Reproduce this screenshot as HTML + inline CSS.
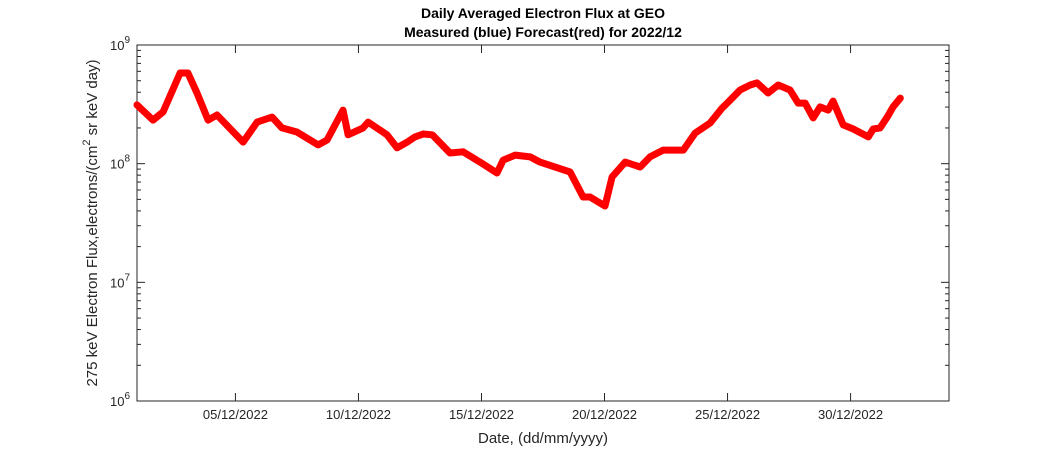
<!DOCTYPE html>
<html><head><meta charset="utf-8"><style>
body{margin:0;background:#fff;}
svg{display:block;font-family:"Liberation Sans",Arial,sans-serif;}
</style></head><body>
<svg id="chart" width="1050" height="450" viewBox="0 0 1050 450">
<rect x="0" y="0" width="1050" height="450" fill="#fff"/>
<text x="543" y="18" text-anchor="middle" font-size="14" font-weight="bold" fill="#000">Daily Averaged Electron Flux at GEO</text>
<text x="543" y="37" text-anchor="middle" font-size="14" font-weight="bold" fill="#000">Measured (blue) Forecast(red) for 2022/12</text>
<g id="axes"></g>
<g id="series"></g>
<text x="543" y="443" text-anchor="middle" font-size="15" fill="#262626">Date, (dd/mm/yyyy)</text>
<text transform="translate(97,223) rotate(-90)" text-anchor="middle" font-size="15" fill="#262626">275 keV Electron Flux,electrons/(cm<tspan dy="-7" font-size="11">2</tspan><tspan dy="7"> sr keV day)</tspan></text>
</svg>
<script>
// data: day offset from 01/12/2022 00:00, flux values
const days = [0,0.65,1.06,1.75,2.07,2.44,2.89,3.25,4.31,4.88,5.49,5.89,6.5,7.36,7.72,8.37,8.58,9.19,9.39,10.16,10.57,10.98,11.3,11.63,12.0,12.72,13.25,13.94,14.63,14.88,15.37,15.98,16.38,17.6,18.13,18.41,19.02,19.31,19.84,20.45,20.85,21.38,22.2,22.68,23.29,23.78,24.11,24.51,24.92,25.2,25.65,26.06,26.54,26.87,27.15,27.48,27.76,28.09,28.29,28.7,29.11,29.72,29.92,30.2,30.49,30.73,31.02];
const flux = [3.13e8,2.33e8,2.73e8,5.81e8,5.81e8,3.94e8,2.33e8,2.57e8,1.52e8,2.24e8,2.47e8,2.00e8,1.85e8,1.44e8,1.58e8,2.83e8,1.75e8,2.00e8,2.24e8,1.75e8,1.36e8,1.52e8,1.68e8,1.78e8,1.75e8,1.23e8,1.26e8,1.03e8,8.35e7,1.07e8,1.18e8,1.14e8,1.03e8,8.51e7,5.24e7,5.24e7,4.40e7,7.73e7,1.03e8,9.37e7,1.14e8,1.30e8,1.30e8,1.81e8,2.20e8,2.94e8,3.44e8,4.18e8,4.60e8,4.79e8,3.94e8,4.60e8,4.18e8,3.24e8,3.24e8,2.43e8,3.01e8,2.83e8,3.37e8,2.12e8,1.96e8,1.68e8,1.96e8,2.00e8,2.47e8,3.01e8,3.57e8];
const xTickDays = [4,9,14,19,24,29];
const xTickLabels = ["05/12/2022","10/12/2022","15/12/2022","20/12/2022","25/12/2022","30/12/2022"];
const yTickExps = [6,7,8,9];

const L=137,R=949,T=45,B=401, DMIN=0, DMAX=33, EMIN=6, EMAX=9;
const xs=d=>L+(d-DMIN)/(DMAX-DMIN)*(R-L);
const ys=v=>B-(Math.log10(v)-EMIN)/(EMAX-EMIN)*(B-T);
const NS="http://www.w3.org/2000/svg";
function mk(tag,attrs,parent){const e=document.createElementNS(NS,tag);for(const k in attrs)e.setAttribute(k,attrs[k]);parent.appendChild(e);return e;}
const ax=document.getElementById('axes');
const box=mk('rect',{x:L,y:T,width:R-L,height:B-T,fill:'none',stroke:'#262626','stroke-width':1},ax);


xTickDays.forEach((d,i)=>{
  const x=xs(d);
  const t1=mk('line',{x1:x,x2:x,y1:B,y2:B-8,stroke:'#262626'},ax);
  
  
  const t2=mk('line',{x1:x,x2:x,y1:T,y2:T+8,stroke:'#262626'},ax);
  
  
  const lb=mk('text',{x:x,y:B+18,'text-anchor':'middle','font-size':13,fill:'#262626'},ax);
  lb.textContent=xTickLabels[i];
  
  
});
yTickExps.forEach((e,i)=>{
  const y=ys(Math.pow(10,e));
  [[L,L+8],[R,R-8]].forEach(p=>{
    const t=mk('line',{x1:p[0],x2:p[1],y1:y,y2:y,stroke:'#262626'},ax);
    
    
  });
  const lb=mk('text',{x:L-7,y:y+5,'text-anchor':'end','font-size':13,fill:'#262626'},ax);
  lb.innerHTML='10<tspan dy="-7" font-size="10">'+e+'</tspan>';
  
  
  if(i<yTickExps.length-1){
    for(let m=2;m<=9;m++){
      const ym=ys(m*Math.pow(10,e));
      [[L,L+4],[R,R-4]].forEach(p=>{
        const t=mk('line',{x1:p[0],x2:p[1],y1:ym,y2:ym,stroke:'#262626'},ax);
        
        
      });
    }
  }
});
const sg=document.getElementById('series');
const pts=days.map((d,i)=>xs(d).toFixed(1)+','+ys(flux[i]).toFixed(1)).join(' ');
const line=mk('polyline',{points:pts,fill:'none',stroke:'#ff0000','stroke-width':7,'stroke-linejoin':'round','stroke-linecap':'round'},sg);


</script>
</body></html>
